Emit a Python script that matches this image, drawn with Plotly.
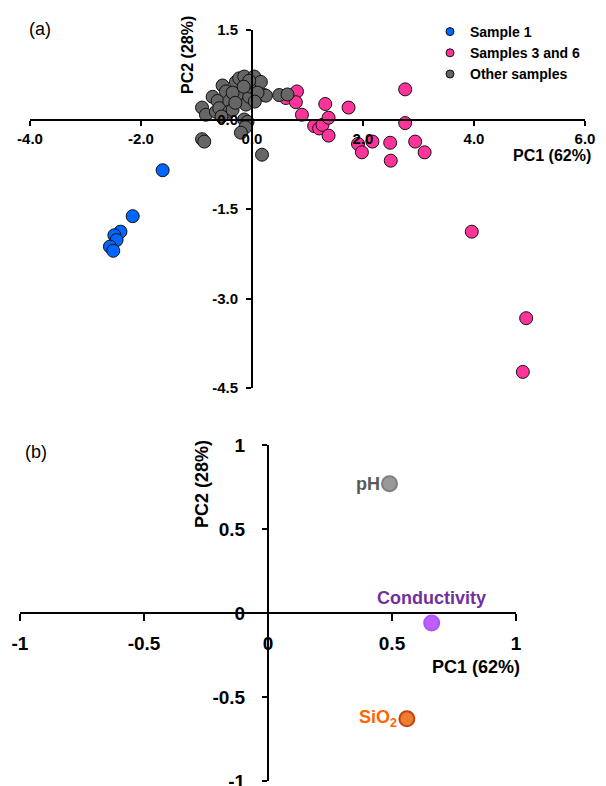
import plotly.graph_objects as go

# ---------------- data: panel (a) scores ----------------
sample1_pc1 = [-1.61, -2.15, -2.37, -2.48, -2.44, -2.56, -2.50]
sample1_pc2 = [-0.85, -1.62, -1.88, -1.94, -2.02, -2.13, -2.20]

s36_pc1 = [0.61, 0.81, 0.79, 0.90, 1.12, 1.21, 1.27, 1.38, 1.38, 1.32, 1.74,
           1.91, 1.98, 2.17, 2.49, 2.50, 2.76, 2.76, 2.94, 3.11, 3.96, 4.94, 4.88]
s36_pc2 = [0.36, 0.47, 0.29, 0.08, -0.11, -0.15, -0.09, -0.27, 0.03, 0.26, 0.20,
           -0.41, -0.55, -0.37, -0.39, -0.69, 0.505, -0.06, -0.37, -0.55, -1.88, -3.33, -4.23]

other_pc1 = [-0.90, -0.83, -0.90, -0.86, -0.71, -0.65, -0.62, -0.59, -0.53, -0.47,
             -0.41, -0.41, -0.35, -0.29, -0.23, -0.23, -0.14, -0.11, -0.05, -0.02,
             0.04, 0.07, 0.16, 0.22, 0.25, 0.49, 0.64, -0.14, -0.08, -0.12,
             -0.20, 0.18, -0.35, -0.05, -0.15, 0.10, -0.55, 0.05, -0.30]
other_pc2 = [0.20, 0.08, -0.33, -0.37, 0.38, 0.13, 0.31, 0.19, 0.57, 0.47,
             0.31, 0.13, 0.16, 0.63, 0.44, 0.69, 0.72, 0.25, 0.38, 0.55,
             0.72, 0.58, 0.63, 0.41, 0.40, 0.41, 0.42, 0.00, -0.04, -0.13,
             -0.22, -0.59, 0.45, 0.65, 0.55, 0.45, 0.05, 0.30, 0.28]

series_names = ["Sample 1", "Samples 3 and 6", "Other samples"]

# ---------------- data: panel (b) loadings ----------------
variables = ["pH", "Conductivity", "SiO<sub>2</sub>"]
load_pc1 = [0.49, 0.66, 0.56]
load_pc2 = [0.77, -0.06, -0.63]

# tick labels
a_xticks = [-4, -2, 0, 2, 4, 6]
a_xtext = ["-4.0", "-2.0", "0.0", "2.0", "4.0", "6.0"]
a_yticks = [-4.5, -3.0, -1.5, 0, 1.5]
a_ytext = ["-4.5", "-3.0", "-1.5", "0.0", "1.5"]
b_ticks = [-1, -0.5, 0, 0.5, 1]
b_text = ["-1", "-0.5", "0", "0.5", "1"]

# ---------------- styles ----------------
OFF = 8                      # page body margin
W, H = 598, 786              # figure size
FONT = "Liberation Sans, Arial, sans-serif"
c_blue, c_pink, c_gray = "#0066ff", "#ff3399", "#666666"
mk_fill = ["#999999", "#bf5fff", "#ed7d31"]
mk_line = ["#7f7f7f", "#b050ff", "#c0450c"]
txt_col = ["#595959", "#7030a0", "#ff6600"]


def fx(px):
    return (px - OFF) / W


def fy(py):
    return (H - (py - OFF)) / H


xa_dom = [fx(30), fx(585)]
ya_dom = [fy(388), fy(30)]
xb_dom = [fx(20), fx(516)]
yb_dom = [fy(781), fy(445)]
xa_rng, ya_rng = [-4, 6], [-4.5, 1.5]
xb_rng, yb_rng = [-1, 1], [-1, 1]


def cross(dom, rng):
    return dom[0] + (0 - rng[0]) / (rng[1] - rng[0]) * (dom[1] - dom[0])


fig = go.Figure()

for xs, ys, col, nm in [(sample1_pc1, sample1_pc2, c_blue, series_names[0]),
                        (s36_pc1, s36_pc2, c_pink, series_names[1]),
                        (other_pc1, other_pc2, c_gray, series_names[2])]:
    fig.add_trace(go.Scatter(x=xs, y=ys, mode="markers", showlegend=False,
                             marker=dict(size=13, color=col, line=dict(color="#111111", width=1)),
                             xaxis="x", yaxis="y", name=nm))

# legend entries (small symbols)
for col, nm in [(c_blue, series_names[0]), (c_pink, series_names[1]), (c_gray, series_names[2])]:
    fig.add_trace(go.Scatter(x=[None], y=[None], mode="markers", name=nm,
                             marker=dict(size=8, color=col, line=dict(color="#111111", width=1)),
                             xaxis="x", yaxis="y"))

fig.add_trace(go.Scatter(x=load_pc1, y=load_pc2, mode="markers", showlegend=False,
                         marker=dict(size=15, color=mk_fill, line=dict(color=mk_line, width=2)),
                         xaxis="x2", yaxis="y2"))

axis_common = dict(showline=True, linecolor="black", linewidth=2, showgrid=False,
                   zeroline=False, ticks="outside", tickcolor="black", tickwidth=2,
                   fixedrange=True, automargin=False)

fig.update_layout(
    template="none",
    width=W, height=H, autosize=False,
    margin=dict(l=0, r=0, t=0, b=0, pad=0, autoexpand=False),
    paper_bgcolor="white", plot_bgcolor="white",
    font=dict(family=FONT, color="black"),
    xaxis=dict(domain=xa_dom, range=xa_rng, anchor="free",
               position=cross(ya_dom, ya_rng), tickvals=a_xticks, ticktext=a_xtext,
               ticklen=5, ticklabelstandoff=0,
               tickfont=dict(family=FONT, size=15, weight="bold"), **axis_common),
    yaxis=dict(domain=ya_dom, range=ya_rng, anchor="free",
               position=cross(xa_dom, xa_rng), tickvals=a_yticks, ticktext=a_ytext,
               ticklen=5, ticklabelstandoff=5,
               tickfont=dict(family=FONT, size=15, weight="bold"), **axis_common),
    xaxis2=dict(domain=xb_dom, range=xb_rng, anchor="free",
                position=cross(yb_dom, yb_rng), tickvals=b_ticks, ticktext=b_text,
                ticklen=7, ticklabelstandoff=6,
                tickfont=dict(family=FONT, size=19, weight="bold"), **axis_common),
    yaxis2=dict(domain=yb_dom, range=yb_rng, anchor="free",
                position=cross(xb_dom, xb_rng), tickvals=b_ticks, ticktext=b_text,
                ticklen=5, ticklabelstandoff=13,
                tickfont=dict(family=FONT, size=19, weight="bold"), **axis_common),
    legend=dict(x=fx(430), y=fy(16), xanchor="left", yanchor="top",
                bgcolor="rgba(0,0,0,0)", borderwidth=0,
                font=dict(family=FONT, size=14, weight="bold", color="black")),
    showlegend=True,
)

annos = [
    dict(text="(a)", x=fx(40), y=fy(29), font=dict(size=18)),
    dict(text="(b)", x=fx(36), y=fy(452), font=dict(size=18)),
    dict(text="<b>PC1 (62%)</b>", x=fx(593), y=fy(155), xanchor="right", font=dict(size=16)),
    dict(text="<b>PC2 (28%)</b>", x=fx(187), y=fy(55), textangle=-90, font=dict(size=16)),
    dict(text="<b>PC1 (62%)</b>", x=fx(522), y=fy(667), xanchor="right", font=dict(size=18)),
    dict(text="<b>PC2 (28%)</b>", x=fx(202), y=fy(484), textangle=-90, font=dict(size=18)),
]
for a in annos:
    a.setdefault("xanchor", "center")
    fig.add_annotation(xref="paper", yref="paper", yanchor="middle", showarrow=False,
                       **{k: v for k, v in a.items() if k != "font"},
                       font=dict(family=FONT, color="black", **a["font"]))

for i, v in enumerate(variables):
    if i == 1:
        fig.add_annotation(x=load_pc1[i], y=load_pc2[i], xref="x2", yref="y2",
                           text="<b>%s</b>" % v, showarrow=False, xanchor="center",
                           yanchor="bottom", yshift=13,
                           font=dict(family=FONT, size=18, color=txt_col[i]))
    else:
        fig.add_annotation(x=load_pc1[i], y=load_pc2[i], xref="x2", yref="y2",
                           text="<b>%s</b>" % v, showarrow=False, xanchor="right",
                           yanchor="middle", xshift=-8,
                           font=dict(family=FONT, size=18, color=txt_col[i]))

fig.write_html("out.html")
